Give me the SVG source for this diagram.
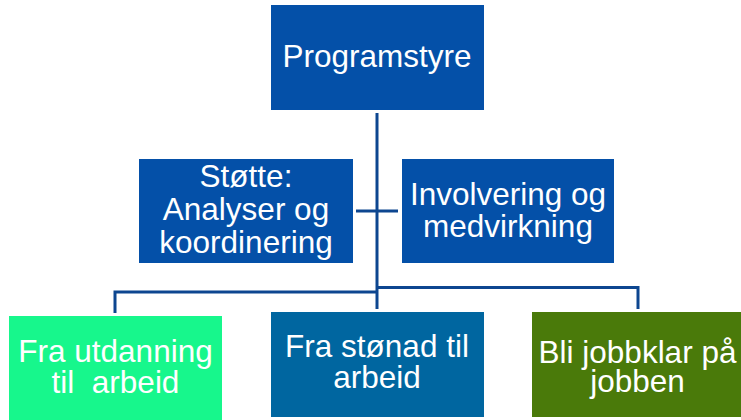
<svg xmlns="http://www.w3.org/2000/svg" width="741" height="420" viewBox="0 0 741 420">
<style>
.t{font-family:"Liberation Sans",Arial,sans-serif;font-size:31.5px;fill:#ffffff;text-anchor:middle;white-space:pre}
.c{fill:none;stroke:#0D4690;stroke-width:3}
</style>
<rect width="741" height="420" fill="#ffffff"/>
<g id="connectors">
<path class="c" d="M377 113V309"/>
<path class="c" d="M356 211H398"/>
<path class="c" d="M115 313V292H377"/>
<path class="c" d="M377 287.5H638V309"/>
</g>
<g id="programstyre">
<rect x="271" y="5" width="213" height="105" fill="#0450A8"/>
<text class="t" x="377" y="67">Programstyre</text>
</g>
<g id="stotte">
<rect x="139" y="159" width="214" height="104" fill="#0450A8"/>
<text class="t" x="246" y="187">Støtte:</text>
<text class="t" x="246" y="220">Analyser og</text>
<text class="t" x="246" y="253">koordinering</text>
</g>
<g id="involvering">
<rect x="402" y="159" width="212" height="104" fill="#0450A8"/>
<text class="t" x="508" y="205">Involvering og</text>
<text class="t" x="508" y="237">medvirkning</text>
</g>
<g id="utdanning">
<rect x="9" y="316" width="213" height="104" fill="#17F78C"/>
<text class="t" x="115.5" y="362">Fra utdanning</text>
<text class="t" x="115.5" y="393" xml:space="preserve">til  arbeid</text>
</g>
<g id="stonad">
<rect x="271" y="312" width="213" height="105" fill="#0066A0"/>
<text class="t" x="377" y="357">Fra stønad til</text>
<text class="t" x="377" y="388">arbeid</text>
</g>
<g id="jobbklar">
<rect x="532" y="312" width="209" height="105" fill="#4A7A0A"/>
<text class="t" x="637.5" y="363">Bli jobbklar på</text>
<text class="t" x="637.5" y="392">jobben</text>
</g>
</svg>
